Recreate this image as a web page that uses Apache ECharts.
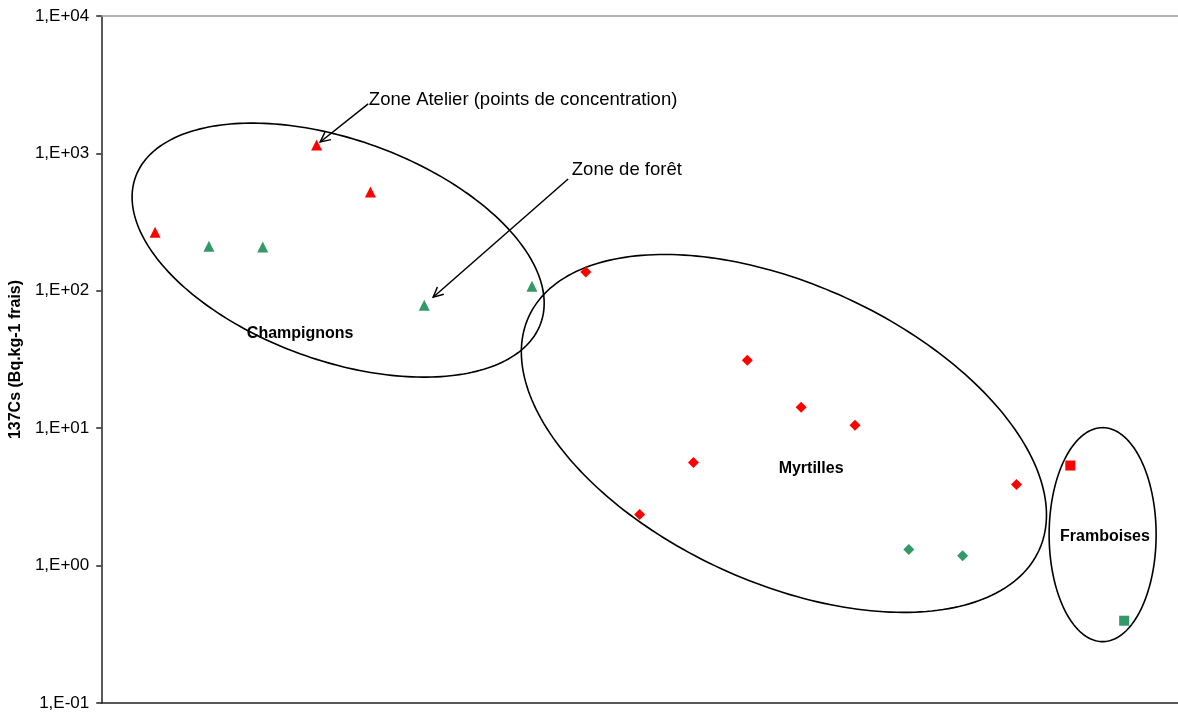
<!DOCTYPE html>
<html><head><meta charset="utf-8">
<script src="https://cdn.jsdelivr.net/npm/echarts@6/dist/echarts.min.js"></script>
<style>html,body{margin:0;padding:0;background:#fff}#c{width:1178px;height:713px}</style>
</head><body><div id="c"></div>
<script>
// ---- data ----
const yTickLabels = ['1,E-01','1,E+00','1,E+01','1,E+02','1,E+03','1,E+04'];
const yAxisName = '137Cs (Bq.kg-1 frais)';
const champRed   = [[1,267],[4,1151],[5,523]];
const champGreen = [[2,211],[3,208],[6,78.5],[8,108]];
const myrtRed    = [[9,137],[10,2.35],[11,5.63],[12,31.2],[13,14.2],[14,10.5],[17,3.9]];
const myrtGreen  = [[15,1.31],[16,1.18]];
const frambRed   = [[18,5.35]];
const frambGreen = [[19,0.397]];
const groupLabels = ['Champignons','Myrtilles','Framboises'];
const groupLabelAt = [[3.695,49.1],[13.185,5.09],[18.644,1.63]];
const annotTexts = ['Zone Atelier (points de concentration)','Zone de forêt'];
const annotTextAt = [[4.97,2470],[8.74,757]];
const arrowFrom = [[4.958,2291],[8.672,650.6]];
const arrowTo   = [[4.067,1211],[6.165,89.8]];
// ellipse centres in data space; radii (px) and tilt (deg)
const ellCenter = [[4.40,197.7],[12.68,9.16],[18.6,1.68]];
const ellRadii  = [[215.4,110.4],[280.6,149.1],[53.5,107]];
const ellTilt   = [19.85,24.6,0];

const RED='#FF0000', GREEN='#339966';
const FONT='"Liberation Sans", Arial, sans-serif';
const chart = echarts.init(document.getElementById('c'));
function sc(name,data,symbol,size,color){
  return {name,type:'scatter',data,symbol,symbolSize:size,itemStyle:{color,opacity:1},z:5};
}
chart.setOption({
  animation:false,
  backgroundColor:'#fff',
  grid:{left:101,right:0,top:16,bottom:10},
  xAxis:[
    {type:'value',min:0,max:20,position:'bottom',
     axisLine:{show:true,onZero:false,lineStyle:{color:'#222',width:1.5}},
     axisTick:{show:false},axisLabel:{show:false},splitLine:{show:false}},
    {type:'value',min:0,max:20,position:'top',
     axisLine:{show:true,lineStyle:{color:'#999',width:1.5}},
     axisTick:{show:false},axisLabel:{show:false},splitLine:{show:false}}
  ],
  yAxis:{type:'log',logBase:10,min:0.1,max:10000,
    name:yAxisName,nameLocation:'middle',nameGap:75,nameRotate:90,
    nameTextStyle:{fontFamily:FONT,fontSize:16,fontWeight:'bold',color:'#000'},
    axisLine:{show:true,lineStyle:{color:'#222',width:1.5}},
    axisTick:{show:true,inside:false,length:5,lineStyle:{color:'#222',width:1.5}},
    minorTick:{show:false},
    axisLabel:{fontFamily:FONT,fontSize:17,color:'#000',margin:12,
      formatter:v=>yTickLabels[Math.round(Math.log10(v))+1]},
    splitLine:{show:false}},
  series:[
    sc('champRed',champRed,'triangle',11,RED),
    sc('champGreen',champGreen,'triangle',11,GREEN),
    sc('myrtRed',myrtRed,'diamond',11,RED),
    sc('myrtGreen',myrtGreen,'diamond',11,GREEN),
    sc('frambRed',frambRed,'rect',[10,10],RED),
    sc('frambGreen',frambGreen,'rect',[10,10],GREEN)
  ]
});

const toPx = p => chart.convertToPixel({xAxisIndex:0,yAxisIndex:0},p);
const g = [];
ellCenter.forEach((c,i)=>{
  const [cx,cy]=toPx(c); const [a,b]=ellRadii[i]; const th=ellTilt[i]*Math.PI/180;
  const pts=[];
  for(let k=0;k<240;k++){const t=k/240*2*Math.PI;
    pts.push([cx+a*Math.cos(t)*Math.cos(th)-b*Math.sin(t)*Math.sin(th),
              cy+a*Math.cos(t)*Math.sin(th)+b*Math.sin(t)*Math.cos(th)]);}
  g.push({type:'polygon',shape:{points:pts},style:{fill:null,stroke:'#000',lineWidth:1.6},z:3,silent:true});
});
groupLabels.forEach((t,i)=>{
  const [x,y]=toPx(groupLabelAt[i]);
  g.push({type:'text',x,y,style:{text:t,font:'bold 16px '+FONT,fill:'#000',
    textAlign:'center',textVerticalAlign:'middle',align:'center',verticalAlign:'middle'},z:6,silent:true});
});
annotTexts.forEach((t,i)=>{
  const [x,y]=toPx(annotTextAt[i]);
  g.push({type:'text',x,y,style:{text:t,font:'18.5px '+FONT,fill:'#000',
    textAlign:'left',textVerticalAlign:'middle',align:'left',verticalAlign:'middle'},z:6,silent:true});
});
arrowFrom.forEach((f,i)=>{
  const [x1,y1]=toPx(f),[x2,y2]=toPx(arrowTo[i]);
  const ang=Math.atan2(y2-y1,x2-x1), L=11, h=26*Math.PI/180;
  g.push({type:'line',shape:{x1,y1,x2,y2},style:{stroke:'#000',lineWidth:1.5},z:6,silent:true});
  g.push({type:'polyline',shape:{points:[
    [x2-L*Math.cos(ang-h),y2-L*Math.sin(ang-h)],[x2,y2],
    [x2-L*Math.cos(ang+h),y2-L*Math.sin(ang+h)]]},
    style:{stroke:'#000',lineWidth:1.5,fill:null},z:6,silent:true});
});
chart.setOption({graphic:{elements:g}});
</script></body></html>
